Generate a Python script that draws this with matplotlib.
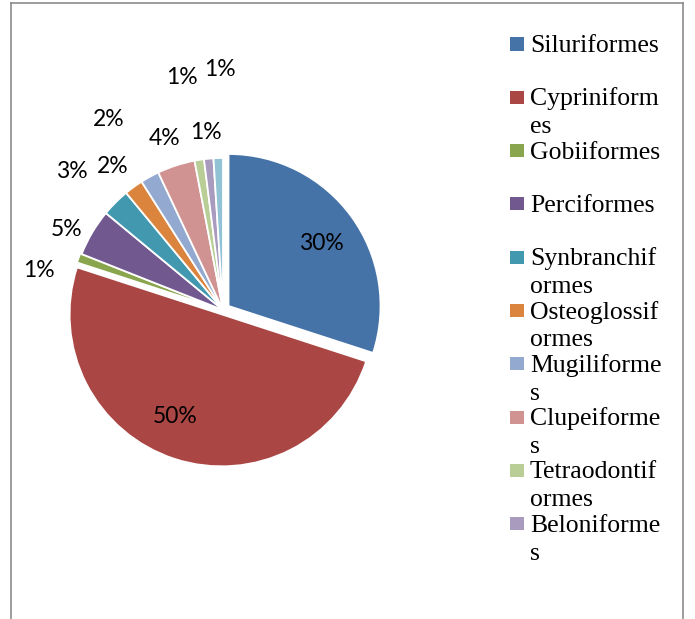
import numpy as np
import matplotlib
matplotlib.use("Agg")
import matplotlib.pyplot as plt
from matplotlib.patches import Rectangle
from matplotlib.lines import Line2D

# ---- data ----
categories = ["Siluriformes", "Cypriniformes", "Gobiiformes", "Perciformes",
              "Synbranchiformes", "Osteoglossiformes", "Mugiliformes",
              "Clupeiformes", "Tetraodontiformes", "Beloniformes", "Others"]
values = [30, 50, 1, 5, 3, 2, 2, 4, 1, 1, 1]
pct_labels = ["30%", "50%", "1%", "5%", "3%", "2%", "2%", "4%", "1%", "1%", "1%"]
legend_labels = ["Siluriformes", "Cypriniform\nes", "Gobiiformes", "Perciformes",
                 "Synbranchif\normes", "Osteoglossif\normes", "Mugiliforme\ns",
                 "Clupeiforme\ns", "Tetraodontif\normes", "Beloniforme\ns"]

# ---- style ----
colors = ["#4572A7", "#AA4643", "#89A54E", "#71588F", "#4198AF", "#DB843D",
          "#93A9CF", "#D19392", "#B9CD96", "#A99BBD", "#92C3D4"]
explode = [0.045, 0.03, 0.01, 0, 0, 0, 0, 0, 0, 0, 0]
# label placement (polar about the pie centre, degrees / radius fraction)
label_angles = [34, -114, 168, 152.7, 137.6, 127.4, 121, 109, 100, 95.5, 90.7]
label_dists = [0.78, 0.77, 1.24, 1.16, 1.35, 1.19, 1.46, 1.19, 1.55, 1.17, 1.58]

W, H = 695, 619
fig = plt.figure(figsize=(W / 100, H / 100), dpi=100)
fig.patch.set_facecolor("white")

# pie axes: centre (223, 310) px from top, radius 152 px
R = 152.0
cx, cy = 223.0, H - 310.0
half = 210.0
ax = fig.add_axes([(cx - half) / W, (cy - half) / H, 2 * half / W, 2 * half / H])
ax.pie(values, colors=colors, startangle=90, counterclock=False, explode=explode,
       radius=1.0, wedgeprops=dict(edgecolor="white", linewidth=1.3))
lim = half / R
ax.set_xlim(-lim, lim)
ax.set_ylim(-lim, lim)
ax.set_aspect("auto")
ax.axis("off")

for lab, a, d in zip(pct_labels, label_angles, label_dists):
    t = np.deg2rad(a)
    ax.text(d * np.cos(t), d * np.sin(t), lab, ha="center", va="center",
            fontsize=16.5, family=["Lato", "DejaVu Sans"], color="black")

# legend (manual, Excel style)
sq_x, sq_w, sq_h = 510, 14, 13
y0, dy = 44, 53.3
for i, lab in enumerate(legend_labels):
    yc = y0 + i * dy
    fig.add_artist(Rectangle((sq_x / W, (H - yc - sq_h / 2) / H), sq_w / W, sq_h / H,
                             transform=fig.transFigure, facecolor=colors[i],
                             edgecolor="none"))
    lines = lab.split("\n")
    for j, ln in enumerate(lines):
        fig.text(530 / W, (H - (yc + 8 + 28 * j)) / H, ln, ha="left", va="baseline",
                 fontsize=18.5, family=["Liberation Serif", "DejaVu Serif"], color="black")

# chart border (bottom edge outside the image)
bc = "#8C8C8C"
for (x1, y1, x2, y2) in [(11, 3, 683, 3), (11, 3, 11, 640), (683, 3, 683, 640)]:
    fig.add_artist(Line2D([x1 / W, x2 / W], [(H - y1) / H, (H - y2) / H],
                          transform=fig.transFigure, color=bc, linewidth=1.2))

fig.savefig("out.png", dpi=100, facecolor="white")
